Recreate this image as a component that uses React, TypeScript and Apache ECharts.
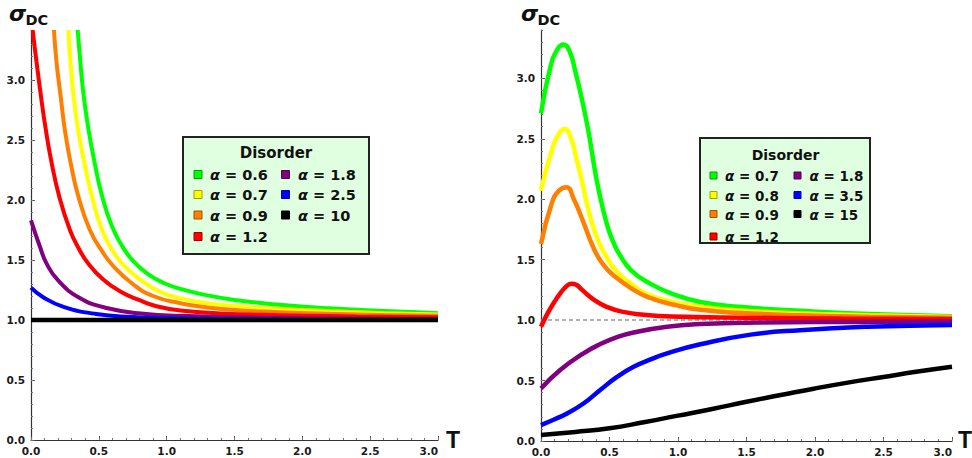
import React, { useEffect, useRef } from "react";
import * as echarts from "echarts";

// ---------- tick values ----------
const T_TICKS = [0, 0.5, 1, 1.5, 2, 2.5, 3];
const SIGMA_TICKS = [0, 0.5, 1, 1.5, 2, 2.5, 3];

// ---------- legends ----------
const COLORS = ["#00FF00", "#FFFF00", "#FF8000", "#FF0000", "#800080", "#0000FF", "#000000"];
const BORDERS = ["#00A000", "#A0A000", "#A05000", "#A00000", "#500050", "#0000A0", "#000000"];
const LEFT_ALPHAS = ["0.6", "0.7", "0.9", "1.2", "1.8", "2.5", "10"];
const RIGHT_ALPHAS = ["0.7", "0.8", "0.9", "1.2", "1.8", "3.5", "15"];

// ---------- left panel data [T, sigma_DC] ----------
const L_A06: number[][] = [[0.31, 3.95], [0.344, 3.42], [0.36, 3.2], [0.385, 2.9], [0.422, 2.6], [0.471, 2.3], [0.52, 2.05], [0.594, 1.79], [0.67, 1.62], [0.754, 1.49], [0.86, 1.385], [0.975, 1.31], [1.1, 1.26], [1.3, 1.205], [1.55, 1.16], [1.83, 1.127], [2.2, 1.097], [2.6, 1.074], [3.0, 1.057]];
const L_A07: number[][] = [[0.25, 3.95], [0.275, 3.42], [0.292, 3.14], [0.312, 2.88], [0.348, 2.58], [0.393, 2.31], [0.447, 2.04], [0.52, 1.76], [0.6, 1.58], [0.68, 1.46], [0.8, 1.34], [0.95, 1.235], [1.1, 1.18], [1.3, 1.14], [1.55, 1.112], [1.83, 1.092], [2.2, 1.073], [2.6, 1.057], [3.0, 1.045]];
const L_A09: number[][] = [[0.15, 3.9], [0.169, 3.42], [0.189, 3.14], [0.219, 2.86], [0.25, 2.58], [0.292, 2.31], [0.349, 2.03], [0.434, 1.75], [0.52, 1.58], [0.606, 1.45], [0.75, 1.3], [0.9, 1.2], [1.1, 1.14], [1.3, 1.105], [1.55, 1.08], [1.83, 1.065], [2.2, 1.052], [2.6, 1.042], [3.0, 1.035]];
const L_A12: number[][] = [[0, 3.55], [0.012, 3.42], [0.042, 3.14], [0.074, 2.86], [0.11, 2.58], [0.152, 2.31], [0.208, 2.03], [0.287, 1.75], [0.35, 1.6], [0.422, 1.47], [0.53, 1.34], [0.655, 1.24], [0.8, 1.165], [0.925, 1.115], [1.1, 1.08], [1.4, 1.055], [1.83, 1.04], [2.4, 1.03], [3.0, 1.022]];
const L_A18: number[][] = [[0, 1.83], [0.066, 1.61], [0.115, 1.47], [0.2, 1.33], [0.35, 1.19], [0.557, 1.1], [0.85, 1.05], [1.1, 1.035], [1.5, 1.022], [2.0, 1.014], [2.5, 1.01], [3.0, 1.008]];
const L_A25: number[][] = [[0, 1.27], [0.09, 1.19], [0.24, 1.11], [0.48, 1.05], [0.75, 1.025], [1.0, 1.015], [1.5, 1.008], [2.0, 1.005], [3.0, 1.003]];
const L_A10: number[][] = [[0, 1.0], [3.0, 1.0]];

// ---------- right panel data [T, sigma_DC] ----------
const R_A07: number[][] = [[0, 2.71], [0.068, 3.09], [0.12, 3.24], [0.165, 3.28], [0.21, 3.22], [0.25, 3.06], [0.3, 2.82], [0.345, 2.57], [0.37, 2.4], [0.406, 2.16], [0.45, 1.93], [0.49, 1.76], [0.53, 1.64], [0.57, 1.55], [0.66, 1.41], [0.8, 1.3], [0.953, 1.22], [1.163, 1.15], [1.44, 1.11], [1.89, 1.077], [2.4, 1.05], [3.0, 1.033]];
const R_A08: number[][] = [[0, 2.07], [0.077, 2.4], [0.13, 2.54], [0.175, 2.58], [0.22, 2.5], [0.26, 2.33], [0.295, 2.17], [0.33, 1.99], [0.37, 1.81], [0.42, 1.65], [0.48, 1.52], [0.54, 1.42], [0.67, 1.29], [0.83, 1.19], [1.163, 1.11], [1.44, 1.08], [1.89, 1.055], [2.4, 1.04], [3.0, 1.025]];
const R_A09: number[][] = [[0, 1.63], [0.077, 1.96], [0.13, 2.07], [0.187, 2.1], [0.24, 2.0], [0.296, 1.85], [0.39, 1.58], [0.46, 1.45], [0.54, 1.36], [0.65, 1.27], [0.78, 1.19], [1.0, 1.12], [1.163, 1.085], [1.44, 1.06], [1.89, 1.04], [2.4, 1.028], [3.0, 1.02]];
const R_A12: number[][] = [[0, 0.945], [0.05, 1.06], [0.1, 1.155], [0.15, 1.235], [0.19, 1.285], [0.223, 1.3], [0.26, 1.29], [0.3, 1.25], [0.39, 1.165], [0.48, 1.11], [0.59, 1.07], [0.75, 1.045], [0.95, 1.03], [1.5, 1.02], [2.2, 1.013], [3.0, 1.01]];
const R_A18: number[][] = [[0, 0.435], [0.14, 0.587], [0.31, 0.725], [0.43, 0.8], [0.55, 0.858], [0.676, 0.898], [0.92, 0.945], [1.16, 0.967], [1.6, 0.98], [2.2, 0.985], [3.0, 0.988]];
const R_A35: number[][] = [[0, 0.132], [0.1, 0.18], [0.19, 0.228], [0.31, 0.31], [0.43, 0.42], [0.555, 0.53], [0.676, 0.614], [0.8, 0.675], [0.92, 0.725], [1.163, 0.8], [1.53, 0.88], [1.89, 0.917], [2.38, 0.945], [3.0, 0.96]];
const R_A15: number[][] = [[0, 0.05], [0.25, 0.075], [0.5, 0.105], [0.75, 0.155], [1.0, 0.21], [1.25, 0.265], [1.5, 0.325], [1.75, 0.38], [2.0, 0.435], [2.25, 0.485], [2.5, 0.53], [2.75, 0.575], [3.0, 0.615]];
const R_REF: number[][] = [[0, 1], [3, 1]];

const LEFT_DATA = [L_A06, L_A07, L_A09, L_A12, L_A18, L_A25, L_A10];
const RIGHT_DATA = [R_A07, R_A08, R_A09, R_A12, R_A18, R_A35, R_A15];

const FONT = "DejaVu Sans";

function majorX(gridIndex: number) {
  return {
    type: "value", gridIndex, position: "bottom", min: 0, max: 3, interval: 0.5,
    axisLine: { show: true, onZero: false, lineStyle: { color: "#333", width: 1.2 } },
    axisTick: { show: true, inside: true, length: 4, customValues: T_TICKS, lineStyle: { color: "#555", width: 1 } },
    axisLabel: { show: true, margin: 5, customValues: T_TICKS, alignMaxLabel: "right", fontFamily: FONT, fontWeight: "bold", fontSize: 10.5, color: "#1a1a1a", formatter: (v: number) => v.toFixed(1) },
    splitLine: { show: false },
  };
}
function minorX(gridIndex: number) {
  return {
    type: "value", gridIndex, position: "bottom", min: 0, max: 3, interval: 0.1,
    axisLine: { show: false, onZero: false },
    axisTick: { show: true, inside: true, length: 2, lineStyle: { color: "#777", width: 1 } },
    axisLabel: { show: false },
    splitLine: { show: false },
  };
}
function majorY(gridIndex: number) {
  return {
    type: "value", gridIndex, position: "left", min: 0, max: 3.4, interval: 0.5,
    axisLine: { show: true, onZero: false, lineStyle: { color: "#333", width: 1.2 } },
    axisTick: { show: true, inside: true, length: 4, customValues: SIGMA_TICKS, lineStyle: { color: "#555", width: 1 } },
    axisLabel: { show: true, margin: 6, customValues: SIGMA_TICKS, fontFamily: FONT, fontWeight: "bold", fontSize: 10.5, color: "#1a1a1a", formatter: (v: number) => v.toFixed(1) },
    splitLine: { show: false },
  };
}
function minorY(gridIndex: number) {
  return {
    type: "value", gridIndex, position: "left", min: 0, max: 3.4, interval: 0.1,
    axisLine: { show: false, onZero: false },
    axisTick: { show: true, inside: true, length: 2, lineStyle: { color: "#777", width: 1 } },
    axisLabel: { show: false },
    splitLine: { show: false },
  };
}

function legendGraphic(
  box: { x: number; y: number; w: number; h: number },
  titleX: number, titleY: number, titleSize: number,
  rows: number[], markerX: number[], textX: number[], markerSize: number, textSize: number,
  alphas: string[]
) {
  const children: any[] = [
    { type: "rect", shape: { x: box.x, y: box.y, width: box.w, height: box.h }, style: { fill: "#E0FFE0", stroke: "#222", lineWidth: 2 } },
    { type: "text", x: titleX, y: titleY, style: { text: "Disorder", fontFamily: FONT, fontWeight: "bold", fontSize: titleSize, fill: "#111", align: "center", textAlign: "center", verticalAlign: "middle", textVerticalAlign: "middle" } },
  ];
  alphas.forEach((a, i) => {
    const col = i < 4 ? 0 : 1;
    const row = i < 4 ? i : i - 4;
    const cy = rows[row];
    children.push({
      type: "rect",
      shape: { x: markerX[col] - markerSize / 2, y: cy - markerSize / 2, width: markerSize, height: markerSize },
      style: { fill: COLORS[i], stroke: BORDERS[i], lineWidth: 1 },
    });
    children.push({
      type: "text", x: textX[col], y: cy + 0.5,
      style: {
        text: "{a|α} = " + a,
        fontFamily: FONT, fontWeight: "bold", fontSize: textSize, fill: "#111",
        align: "left", textAlign: "left", verticalAlign: "middle", textVerticalAlign: "middle",
        rich: { a: { fontFamily: FONT, fontWeight: "bold", fontStyle: "italic", fontSize: textSize, fill: "#111" } },
      },
    });
  });
  return { type: "group", children };
}

function axisTitles(sx: number, tx: number) {
  return [
    { type: "text", x: sx, y: 13, style: { text: "σ", fontFamily: FONT, fontWeight: "bold", fontStyle: "italic", fontSize: 22, fill: "#111", align: "left", textAlign: "left", verticalAlign: "middle", textVerticalAlign: "middle" } },
    { type: "text", x: sx + 16.5, y: 19.5, style: { text: "DC", fontFamily: FONT, fontWeight: "bold", fontSize: 14.5, fill: "#111", align: "left", textAlign: "left", verticalAlign: "middle", textVerticalAlign: "middle" } },
    { type: "text", x: tx, y: 440, style: { text: "T", fontFamily: "Liberation Sans", fontWeight: "bold", fontSize: 23, fill: "#111", align: "left", textAlign: "left", verticalAlign: "middle", textVerticalAlign: "middle" } },
  ];
}

export default function App() {
  const ref = useRef<HTMLDivElement>(null);
  useEffect(() => {
    if (!ref.current) return;
    const chart = echarts.init(ref.current, null, { renderer: "svg" });
    const series: any[] = [];
    LEFT_DATA.forEach((d, i) => {
      series.push({
        name: "left α = " + LEFT_ALPHAS[i], type: "line", xAxisIndex: 0, yAxisIndex: 0,
        data: d, showSymbol: false, smooth: 0.5, clip: true,
        lineStyle: { color: COLORS[i], width: i === 6 ? 4.5 : 4 }, itemStyle: { color: COLORS[i] }, z: 2 + i,
      });
    });
    series.push({
      name: "reference", type: "line", xAxisIndex: 2, yAxisIndex: 2, data: R_REF, showSymbol: false,
      lineStyle: { color: "#999", width: 1.5, type: [4, 3] }, z: 1,
    });
    RIGHT_DATA.forEach((d, i) => {
      series.push({
        name: "right α = " + RIGHT_ALPHAS[i], type: "line", xAxisIndex: 2, yAxisIndex: 2,
        data: d, showSymbol: false, smooth: 0.5, clip: true,
        lineStyle: { color: COLORS[i], width: 4.5 }, itemStyle: { color: COLORS[i] }, z: 2 + i,
      });
    });
    chart.setOption({
      animation: false,
      backgroundColor: "#ffffff",
      grid: [
        { left: 31, top: 32, width: 407, height: 408 },
        { left: 541, top: 30, width: 411, height: 411 },
      ],
      xAxis: [majorX(0), minorX(0), majorX(1), minorX(1)],
      yAxis: [majorY(0), minorY(0), majorY(1), minorY(1)],
      series,
      graphic: [
        ...axisTitles(9, 446),
        ...axisTitles(521, 958),
        legendGraphic({ x: 183, y: 137, w: 186, h: 117 }, 276, 152.5, 15, [174.5, 194.5, 215, 236.5], [198, 285.5], [210, 298], 8, 14.5, LEFT_ALPHAS),
        legendGraphic({ x: 700, y: 138, w: 170, h: 105 }, 785.5, 155, 14, [175.5, 195, 214, 236.5], [713.5, 797.5], [725, 809.5], 7, 13.5, RIGHT_ALPHAS),
      ],
    });
    return () => chart.dispose();
  }, []);
  return <div ref={ref} style={{ position: "fixed", left: 0, top: 0, width: 972, height: 458 }} />;
}
